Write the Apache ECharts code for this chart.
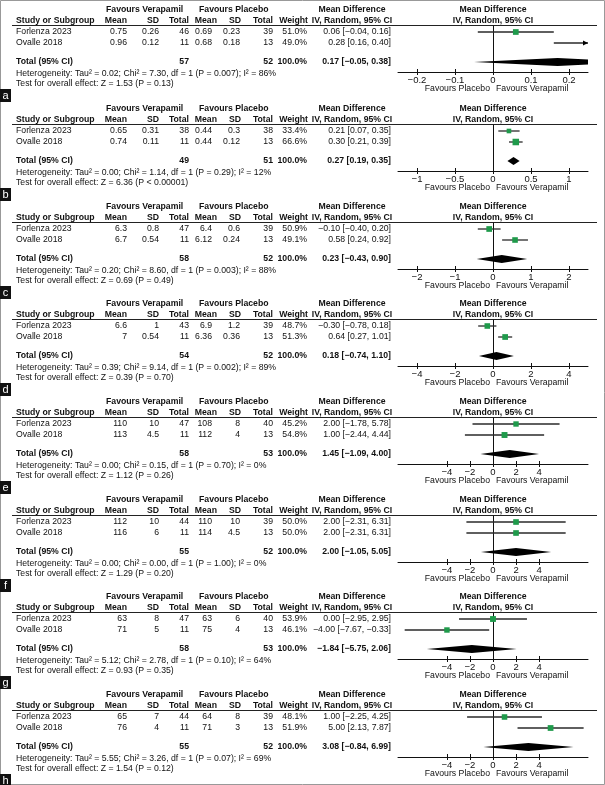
<!DOCTYPE html>
<html>
<head>
<meta charset="utf-8">
<script src="https://cdn.jsdelivr.net/npm/echarts@6.0.0/dist/echarts.min.js"></script>
<style>
html,body{margin:0;padding:0;background:#fff;}
#c{width:605px;height:785px;}
</style>
</head>
<body>
<div id="c"></div>
<script>
// ---------------- DATA ----------------
const panelLetters = ['a','b','c','d','e','f','g','h'];
const studies = ['Forlenza 2023', 'Ovalle 2018'];
const verMean = [[0.75,0.96],[0.65,0.74],[6.3,6.7],[6.6,7],[110,113],[112,116],[63,71],[65,76]];
const verSD   = [[0.26,0.12],[0.31,0.11],[0.8,0.54],[1,0.54],[10,4.5],[10,6],[8,5],[7,4]];
const verN    = [[46,11],[38,11],[47,11],[43,11],[47,11],[44,11],[47,11],[44,11]];
const plaMean = [[0.69,0.68],[0.44,0.44],[6.4,6.12],[6.9,6.36],[108,112],[110,114],[63,75],[64,71]];
const plaSD   = [[0.23,0.18],[0.3,0.12],[0.6,0.24],[1.2,0.36],[8,4],[10,4.5],[6,4],[8,3]];
const plaN    = [[39,13],[38,13],[39,13],[39,13],[40,13],[39,13],[40,13],[39,13]];
const weight  = [[51.0,49.0],[33.4,66.6],[50.9,49.1],[48.7,51.3],[45.2,54.8],[50.0,50.0],[53.9,46.1],[48.1,51.9]];
const md      = [[0.06,0.28],[0.21,0.30],[-0.10,0.58],[-0.30,0.64],[2.00,1.00],[2.00,2.00],[0.00,-4.00],[1.00,5.00]];
const ciLow   = [[-0.04,0.16],[0.07,0.21],[-0.40,0.24],[-0.78,0.27],[-1.78,-2.44],[-2.31,-2.31],[-2.95,-7.67],[-2.25,2.13]];
const ciHigh  = [[0.16,0.40],[0.35,0.39],[0.20,0.92],[0.18,1.01],[5.78,4.44],[6.31,6.31],[2.95,-0.33],[4.25,7.87]];
const totalVer = [57,49,58,54,58,55,58,55];
const totalPla = [52,51,52,52,53,52,53,52];
const totalMD   = [0.17,0.27,0.23,0.18,1.45,2.00,-1.84,3.08];
const totalLow  = [-0.05,0.19,-0.43,-0.74,-1.09,-1.05,-5.75,-0.84];
const totalHigh = [0.38,0.35,0.90,1.10,4.00,5.05,2.06,6.99];
const tau2 = ['0.02','0.00','0.20','0.39','0.00','0.00','5.12','5.55'];
const chi2 = ['7.30','1.14','8.60','9.14','0.15','0.00','2.78','3.26'];
const hetP = ['0.007','0.29','0.003','0.002','0.70','1.00','0.10','0.07'];
const iSq  = [86,12,88,89,0,0,64,69];
const zVal = ['1.53','6.36','0.69','0.39','1.12','1.29','0.93','1.54'];
const zP   = ['= 0.13','< 0.00001','= 0.49','= 0.70','= 0.26','= 0.20','= 0.35','= 0.12'];
const axisMax = [0.25,1.25,2.5,5,8.25,8.25,8.25,8.25];
const tickValues = [[-0.2,-0.1,0,0.1,0.2],[-1,-0.5,0,0.5,1],[-2,-1,0,1,2],[-4,-2,0,2,4],[-4,-2,0,2,4],[-4,-2,0,2,4],[-4,-2,0,2,4],[-4,-2,0,2,4]];

// ---------------- LAYOUT ----------------
const panelTop = [0, 99, 197, 294, 392, 490, 587, 685];
const FONT = '"Liberation Sans", Arial, sans-serif';
const FS = 8.7;
const INK = '#111';
const GREEN = '#1f9a4b';
const ROWPOS = [0.6, 1.7, 3.6];   // y positions (axis units) for study rows and total
const PLOT_L = 398, PLOT_W = 190;

function minus(s){ return String(s).replace(/-/g, '\u2212'); }
function fmt(v,d){ return minus(v.toFixed(d)); }
function ci(m,l,h){ return fmt(m,2) + ' [' + fmt(l,2) + ', ' + fmt(h,2) + ']'; }

const graphics = [];
function T(x, y, text, align, bold, extra){
  graphics.push(Object.assign({
    type:'text', x:x, y:y, silent:true,
    style:{text:text, fill:INK, font:(bold?'bold ':'') + FS + 'px ' + FONT,
      textAlign:align||'left', align:align||'left', textVerticalAlign:'middle', verticalAlign:'middle'}
  }, extra||{}));
}

const grids=[], xAxes=[], yAxes=[], series=[];

panelLetters.forEach(function(L, p){
  const o = panelTop[p];
  // header row 1
  T(106, o+10, 'Favours Verapamil', 'left', true);
  T(199, o+10, 'Favours Placebo', 'left', true);
  T(352, o+10, 'Mean Difference', 'center', true);
  T(493, o+10, 'Mean Difference', 'center', true);
  // header row 2
  T(16, o+21, 'Study or Subgroup', 'left', true);
  T(127, o+21, 'Mean', 'right', true);
  T(159, o+21, 'SD', 'right', true);
  T(189, o+21, 'Total', 'right', true);
  T(217, o+21, 'Mean', 'right', true);
  T(241, o+21, 'SD', 'right', true);
  T(273, o+21, 'Total', 'right', true);
  T(308, o+21, 'Weight', 'right', true);
  T(352, o+21, 'IV, Random, 95% CI', 'center', true);
  T(493, o+21, 'IV, Random, 95% CI', 'center', true);
  graphics.push({type:'line', silent:true, shape:{x1:12, y1:o+25.5, x2:597, y2:o+25.5}, style:{stroke:'#222', lineWidth:1}});
  // study rows
  studies.forEach(function(s, i){
    const y = o + 32 + i*11;
    T(16, y, s, 'left', false);
    T(127, y, String(verMean[p][i]), 'right');
    T(159, y, String(verSD[p][i]), 'right');
    T(189, y, String(verN[p][i]), 'right');
    T(212, y, String(plaMean[p][i]), 'right');
    T(240, y, String(plaSD[p][i]), 'right');
    T(273, y, String(plaN[p][i]), 'right');
    T(307, y, weight[p][i].toFixed(1) + '%', 'right');
    T(391, y, ci(md[p][i], ciLow[p][i], ciHigh[p][i]), 'right');
  });
  // total row
  T(16, o+62, 'Total (95% CI)', 'left', true);
  T(189, o+62, String(totalVer[p]), 'right', true);
  T(273, o+62, String(totalPla[p]), 'right', true);
  T(307, o+62, '100.0%', 'right', true);
  T(391, o+62, ci(totalMD[p], totalLow[p], totalHigh[p]), 'right', true);
  T(16, o+73.5, 'Heterogeneity: Tau\u00b2 = ' + tau2[p] + '; Chi\u00b2 = ' + chi2[p] + ', df = 1 (P = ' + hetP[p] + '); I\u00b2 = ' + iSq[p] + '%', 'left');
  T(16, o+84, 'Test for overall effect: Z = ' + zVal[p] + ' (P ' + zP[p] + ')', 'left');
  // favours
  T(490, o+89, 'Favours Placebo', 'right');
  T(496, o+89, 'Favours Verapamil', 'left');
  // panel letter
  graphics.push({type:'rect', silent:true, shape:{x:0, y:o+89, width:11, height:13}, style:{fill:'#111'}});
  graphics.push({type:'text', silent:true, x:5.5, y:o+95.5, style:{text:L, fill:'#fff', font:'11px ' + FONT, textAlign:'center', align:'center', textVerticalAlign:'middle', verticalAlign:'middle'}});

  // plot grid
  grids.push({left:PLOT_L, width:PLOT_W, top:o+26, height:46, containLabel:false});
  const mn = -axisMax[p], mx = axisMax[p];
  xAxes.push({
    gridIndex:p, type:'value', min:mn, max:mx, position:'bottom',
    axisLine:{show:true, onZero:false, lineStyle:{color:'#111', width:1}},
    axisTick:{show:true, length:3, customValues:tickValues[p], lineStyle:{color:'#111', width:1}},
    axisLabel:{show:true, customValues:tickValues[p], margin:3, color:INK, fontSize:FS+0.8, fontFamily:FONT,
      formatter:function(v){ return minus(v); }},
    splitLine:{show:false}
  });
  xAxes.push({
    gridIndex:p, type:'value', min:mn, max:mx, position:'bottom',
    axisLine:{show:false, onZero:false},
    axisTick:{show:true, inside:true, length:3, customValues:tickValues[p], lineStyle:{color:'#111', width:1}},
    axisLabel:{show:false}, splitLine:{show:false}
  });
  yAxes.push({
    gridIndex:p, type:'value', min:0, max:4.6, inverse:true,
    axisLine:{show:true, onZero:true, lineStyle:{color:'#111', width:1}},
    axisTick:{show:false}, axisLabel:{show:false}, splitLine:{show:false}
  });
  const data = studies.map(function(s, i){ return [0, i, md[p][i], ciLow[p][i], ciHigh[p][i], weight[p][i]]; });
  data.push([1, 2, totalMD[p], totalLow[p], totalHigh[p], 100]);
  series.push({
    type:'custom', xAxisIndex:2*p, yAxisIndex:p, clip:true, silent:true, data:data,
    renderItem:function(params, api){
      const kind = api.value(0), row = api.value(1);
      const m = api.value(2), lo = api.value(3), hi = api.value(4), w = api.value(5);
      const yv = ROWPOS[row];
      const cs = params.coordSys;
      const xMin = cs.x, xMax = cs.x + cs.width;
      const c = api.coord([m, yv]), pl = api.coord([lo, yv]), ph = api.coord([hi, yv]);
      const y = c[1];
      if (kind === 1) {
        const h = 4;
        return {type:'polygon', shape:{points:[[pl[0], y], [c[0], y-h], [ph[0], y], [c[0], y+h]]}, style:{fill:'#000'}};
      }
      const children = [];
      const x1 = Math.max(pl[0], xMin), x2 = Math.min(ph[0], xMax);
      children.push({type:'line', shape:{x1:x1, y1:y, x2:x2, y2:y}, style:{stroke:'#2a2a2a', lineWidth:1.3}});
      if (ph[0] > xMax) {
        children.push({type:'polygon', shape:{points:[[xMax-5, y-2.5], [xMax, y], [xMax-5, y+2.5]]}, style:{fill:'#000'}});
      }
      if (pl[0] < xMin) {
        children.push({type:'polygon', shape:{points:[[xMin+5, y-2.5], [xMin, y], [xMin+5, y+2.5]]}, style:{fill:'#000'}});
      }
      if (c[0] >= xMin && c[0] <= xMax) {
        const s = 0.8 * Math.sqrt(w);
        children.push({type:'rect', shape:{x:c[0]-s/2, y:y-s/2, width:s, height:s}, style:{fill:GREEN}});
      }
      return {type:'group', children:children};
    }
  });
});

// outer frame
graphics.push({type:'rect', silent:true, shape:{x:0.5, y:0.5, width:604, height:784}, style:{fill:'none', stroke:'#999', lineWidth:1}, z:-1});

const chart = echarts.init(document.getElementById('c'), null, {renderer:'canvas', width:605, height:785});
chart.setOption({
  animation:false,
  backgroundColor:'#fff',
  grid:grids, xAxis:xAxes, yAxis:yAxes, series:series,
  graphic:{elements:graphics}
});
</script>
</body>
</html>
